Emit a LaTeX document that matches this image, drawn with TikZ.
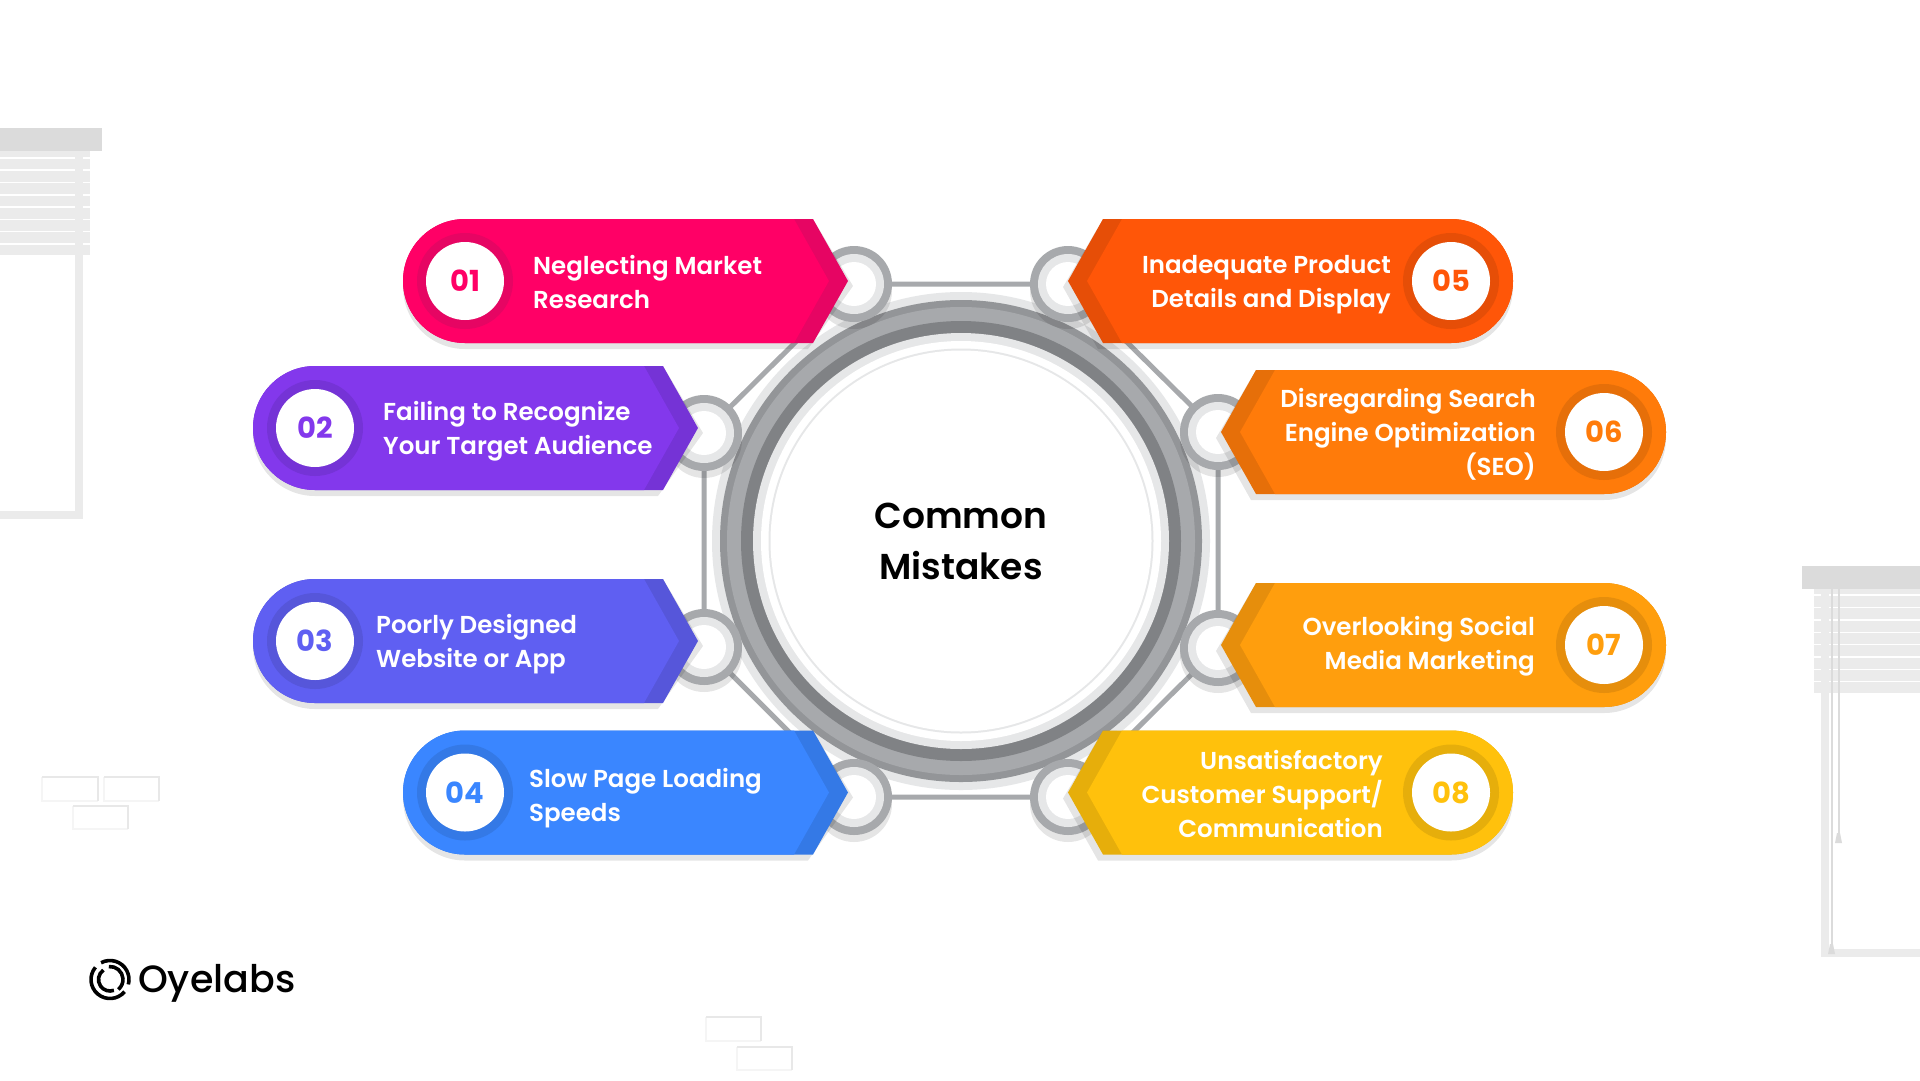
\documentclass[tikz,border=0pt]{standalone}
\usepackage{fontspec}
\newfontfamily\pf{Poppins Medium}
\newfontfamily\ps{Poppins SemiBold}
\newfontfamily\pb{Poppins Bold}
\definecolor{cpink}{HTML}{FF0066}
\definecolor{cpinkd}{HTML}{E60563}
\definecolor{cpurple}{HTML}{8338EC}
\definecolor{cpurpled}{HTML}{7533D6}
\definecolor{cindigo}{HTML}{5F5FF2}
\definecolor{cindigod}{HTML}{5656DA}
\definecolor{cblue}{HTML}{3A86FF}
\definecolor{cblued}{HTML}{3479E6}
\definecolor{cred}{HTML}{FF5608}
\definecolor{credd}{HTML}{E64E07}
\definecolor{corange}{HTML}{FF7B0A}
\definecolor{coranged}{HTML}{E66F09}
\definecolor{camber}{HTML}{FF9E0D}
\definecolor{camberd}{HTML}{E68E0C}
\definecolor{cyel}{HTML}{FFC10C}
\definecolor{cyeld}{HTML}{E6AE0B}
\definecolor{ringg}{HTML}{A7A9AC}
\definecolor{ringl}{HTML}{E6E7E8}
\definecolor{ringd}{HTML}{808285}
\definecolor{ringm}{HTML}{939598}
\definecolor{wall}{HTML}{EBEBEB}
\definecolor{wallb}{HTML}{DBDBDB}
\definecolor{brickd}{HTML}{E8E8E8}
\definecolor{brickl}{HTML}{F5F5F5}
\tikzset{
  ptext/.style={text=white,font=\ps\fontsize{24.5}{34}\selectfont,inner sep=0pt},
  numtext/.style={font=\pb\fontsize{29}{30}\selectfont,inner sep=0pt},
  wire/.style={draw=ringg,line width=5pt},
  logoarc/.style={draw=black,line width=3.6pt},
}
% #1 y-centre, #2 left x, #3 flat x, #4 tip x, #5 main, #6 dark, #7 number, #8 name
\newcommand{\leftpill}[8]{
  \fill[black,opacity=.1] (#2+62,#1-56) arc[start angle=270,end angle=90,radius=62]
     -- (#3-5,#1+68) -- (#4+5,#1+5) -- (#3,#1-62) -- cycle;
  \fill[#6] (#2+62,#1-62) arc[start angle=270,end angle=90,radius=62] -- (#3,#1+62) -- (#4,#1) -- (#3,#1-62) -- cycle;
  \fill[#5] (#2+62,#1-62) arc[start angle=270,end angle=90,radius=62] -- (#3-19,#1+62) -- (#4-19,#1) -- (#3-19,#1-62) -- cycle;
  \node[circle,fill=#6,minimum size=96pt,inner sep=0pt] at (#2+62,#1) {};
  \node[circle,fill=white,minimum size=78pt,inner sep=0pt,text=#5,numtext] (#8) at (#2+62,#1) {#7};
}
\newcommand{\rightpill}[8]{
  \fill[black,opacity=.1] (#2-62,#1-56) arc[start angle=-90,end angle=90,radius=62]
     -- (#3-5,#1+68) -- (#4-5,#1+6) -- (#3,#1-62) -- cycle;
  \fill[#6] (#2-62,#1-62) arc[start angle=-90,end angle=90,radius=62] -- (#3,#1+62) -- (#4,#1) -- (#3,#1-62) -- cycle;
  \fill[#5] (#2-62,#1-62) arc[start angle=-90,end angle=90,radius=62] -- (#3+19,#1+62) -- (#4+19,#1) -- (#3+19,#1-62) -- cycle;
  \node[circle,fill=#6,minimum size=96pt,inner sep=0pt] at (#2-62,#1) {};
  \node[circle,fill=white,minimum size=78pt,inner sep=0pt,text=#5,numtext] (#8) at (#2-62,#1) {#7};
}
\newcommand{\smallring}[3]{
  \fill[black,opacity=.1] (#2,#3+7) circle[radius=38];
  \node[circle,fill=ringg,minimum size=76pt,inner sep=0pt] (#1) at (#2,#3) {};
  \fill[ringl] (#2,#3) circle[radius=30];
  \fill[white] (#2,#3) circle[radius=22];
}
\newcommand{\brickbox}[4]{
  \draw[brickl,line width=2pt] (#1,#2) -- (#1,#4) -- (#3,#4);
  \draw[brickd,line width=2pt] (#1,#2) -- (#3,#2) -- (#3,#4);
}
\begin{document}
\begin{tikzpicture}[x=1pt,y=-1pt]
\useasboundingbox (0,0) rectangle (1920,1080);
\fill[white] (0,0) rectangle (1920,1080);
% left window
\fill[wall] (75,151) rectangle (83,519);
\fill[wall] (0,511) rectangle (83,519);
\fill[wall] (0,151) rectangle (90,255);
\foreach \yy in {157,169.3,181.6,194,206.3,218.5,230.8,243}{
  \fill[white] (0,\yy) rectangle (75,\yy+1.5);
  \fill[white] (83,\yy) rectangle (90,\yy+1.5);
}
\fill[wallb] (0,128) rectangle (102,151);
% right window
\fill[wall] (1821,589) rectangle (1829,957);
\fill[wall] (1821,949) rectangle (1920,957);
\fill[wall] (1814,589) rectangle (1920,693);
\foreach \yy in {594,606.5,619,631.5,643.5,656,668.5,680.5}{
  \fill[white] (1814,\yy) rectangle (1821,\yy+1.5);
  \fill[white] (1829,\yy) rectangle (1920,\yy+1.5);
}
\fill[wallb] (1802,566) rectangle (1920,589);
\fill[white] (1829,693) rectangle (1833,949);
\draw[wallb,line width=2pt] (1831.5,589) -- (1831.5,946);
\draw[wallb,line width=2pt] (1838.5,589) -- (1838.5,835);
\fill[wallb] (1830,944) -- (1833,944) -- (1835,954) -- (1828,954) -- cycle;
\fill[wallb] (1837,833) -- (1840,833) -- (1842,843) -- (1835,843) -- cycle;
% bricks
\brickbox{42}{777}{98}{801}
\brickbox{104}{777}{159}{801}
\brickbox{73}{806}{128}{829}
\brickbox{706}{1017}{761}{1041}
\brickbox{737}{1047}{792}{1070}
% connectors
\coordinate (r1) at (854,284);
\coordinate (r2) at (704,433);
\coordinate (r3) at (704,647);
\coordinate (r4) at (854,797);
\coordinate (r5) at (1068,284);
\coordinate (r6) at (1218,432);
\coordinate (r7) at (1218,648);
\coordinate (r8) at (1068,797);
\draw[wire] (r1) -- (r5) (r5) -- (r6) (r6) -- (r7) (r7) -- (r8) (r8) -- (r4) (r4) -- (r3) (r3) -- (r2) (r2) -- (r1);
% hub
\fill[ringl] (961,541) circle[radius=249];
\fill[ringm] (961,541) circle[radius=241];
\fill[ringg] (961,541) circle[radius=234];
\fill[ringd] (961,541) circle[radius=220];
\fill[ringl] (961,541) circle[radius=208];
\fill[white] (961,541) circle[radius=200];
\fill[ringl] (961,541) circle[radius=192.5];
\fill[white] (961,541) circle[radius=190.5];
\node[font=\ps\fontsize{36}{51}\selectfont,align=center,inner sep=0pt,text=black] (hub) at (961,541.5) {Common\\Mistakes};
\smallring{ring1}{854}{284}
\smallring{ring2}{704}{433}
\smallring{ring3}{704}{647}
\smallring{ring4}{854}{797}
\smallring{ring5}{1068}{284}
\smallring{ring6}{1218}{432}
\smallring{ring7}{1218}{648}
\smallring{ring8}{1068}{797}
\leftpill{281}{403}{813}{848}{cpink}{cpinkd}{01}{n1}
\leftpill{428}{253}{663}{698}{cpurple}{cpurpled}{02}{n2}
\leftpill{641}{253}{663}{698}{cindigo}{cindigod}{03}{n3}
\leftpill{792.5}{403}{813}{848}{cblue}{cblued}{04}{n4}
\rightpill{281}{1513}{1103}{1068}{cred}{credd}{05}{n5}
\rightpill{432}{1666}{1256}{1221}{corange}{coranged}{06}{n6}
\rightpill{645}{1666}{1256}{1221}{camber}{camberd}{07}{n7}
\rightpill{792.5}{1513}{1103}{1068}{cyel}{cyeld}{08}{n8}
\node[ptext,anchor=west,align=left] (t1) at (533,282) {Neglecting Market\\Research};
\node[ptext,anchor=west,align=left] (t2) at (383,431) {Failing to Recognize\\Your Target Audience};
\node[ptext,anchor=west,align=left] (t3) at (376,644.5) {Poorly Designed\\Website or App};
\node[ptext,anchor=west,align=left] (t4) at (529,798.5) {Slow Page Loading\\Speeds};
\node[ptext,anchor=east,align=right] (t5) at (1391,285) {Inadequate Product\\Details and Display};
\node[ptext,anchor=east,align=right] (t6) at (1536,434) {Disregarding Search\\Engine Optimization\\(SEO)};
\node[ptext,anchor=east,align=right] (t7) at (1535,646.5) {Overlooking Social\\Media Marketing};
\node[ptext,anchor=east,align=right] (t8) at (1383,794) {Unsatisfactory\\Customer Support/\\Communication};
% logo
\begin{scope}[shift={(110,979.5)}]
\draw[logoarc] (-140:19) arc[start angle=-140,end angle=-320,radius=19];
\draw[logoarc] (-118:19) arc[start angle=-118,end angle=15,radius=19];
\draw[logoarc] (-125:11.5) arc[start angle=-125,end angle=-290,radius=11.5];
\draw[logoarc] (-95:13) arc[start angle=-95,end angle=50,radius=13];
\end{scope}
\node[anchor=west,font=\pf\fontsize{38}{40}\selectfont,inner sep=0pt,text=black] (logo) at (138,983) {Oyelabs};
\end{tikzpicture}
\end{document}
